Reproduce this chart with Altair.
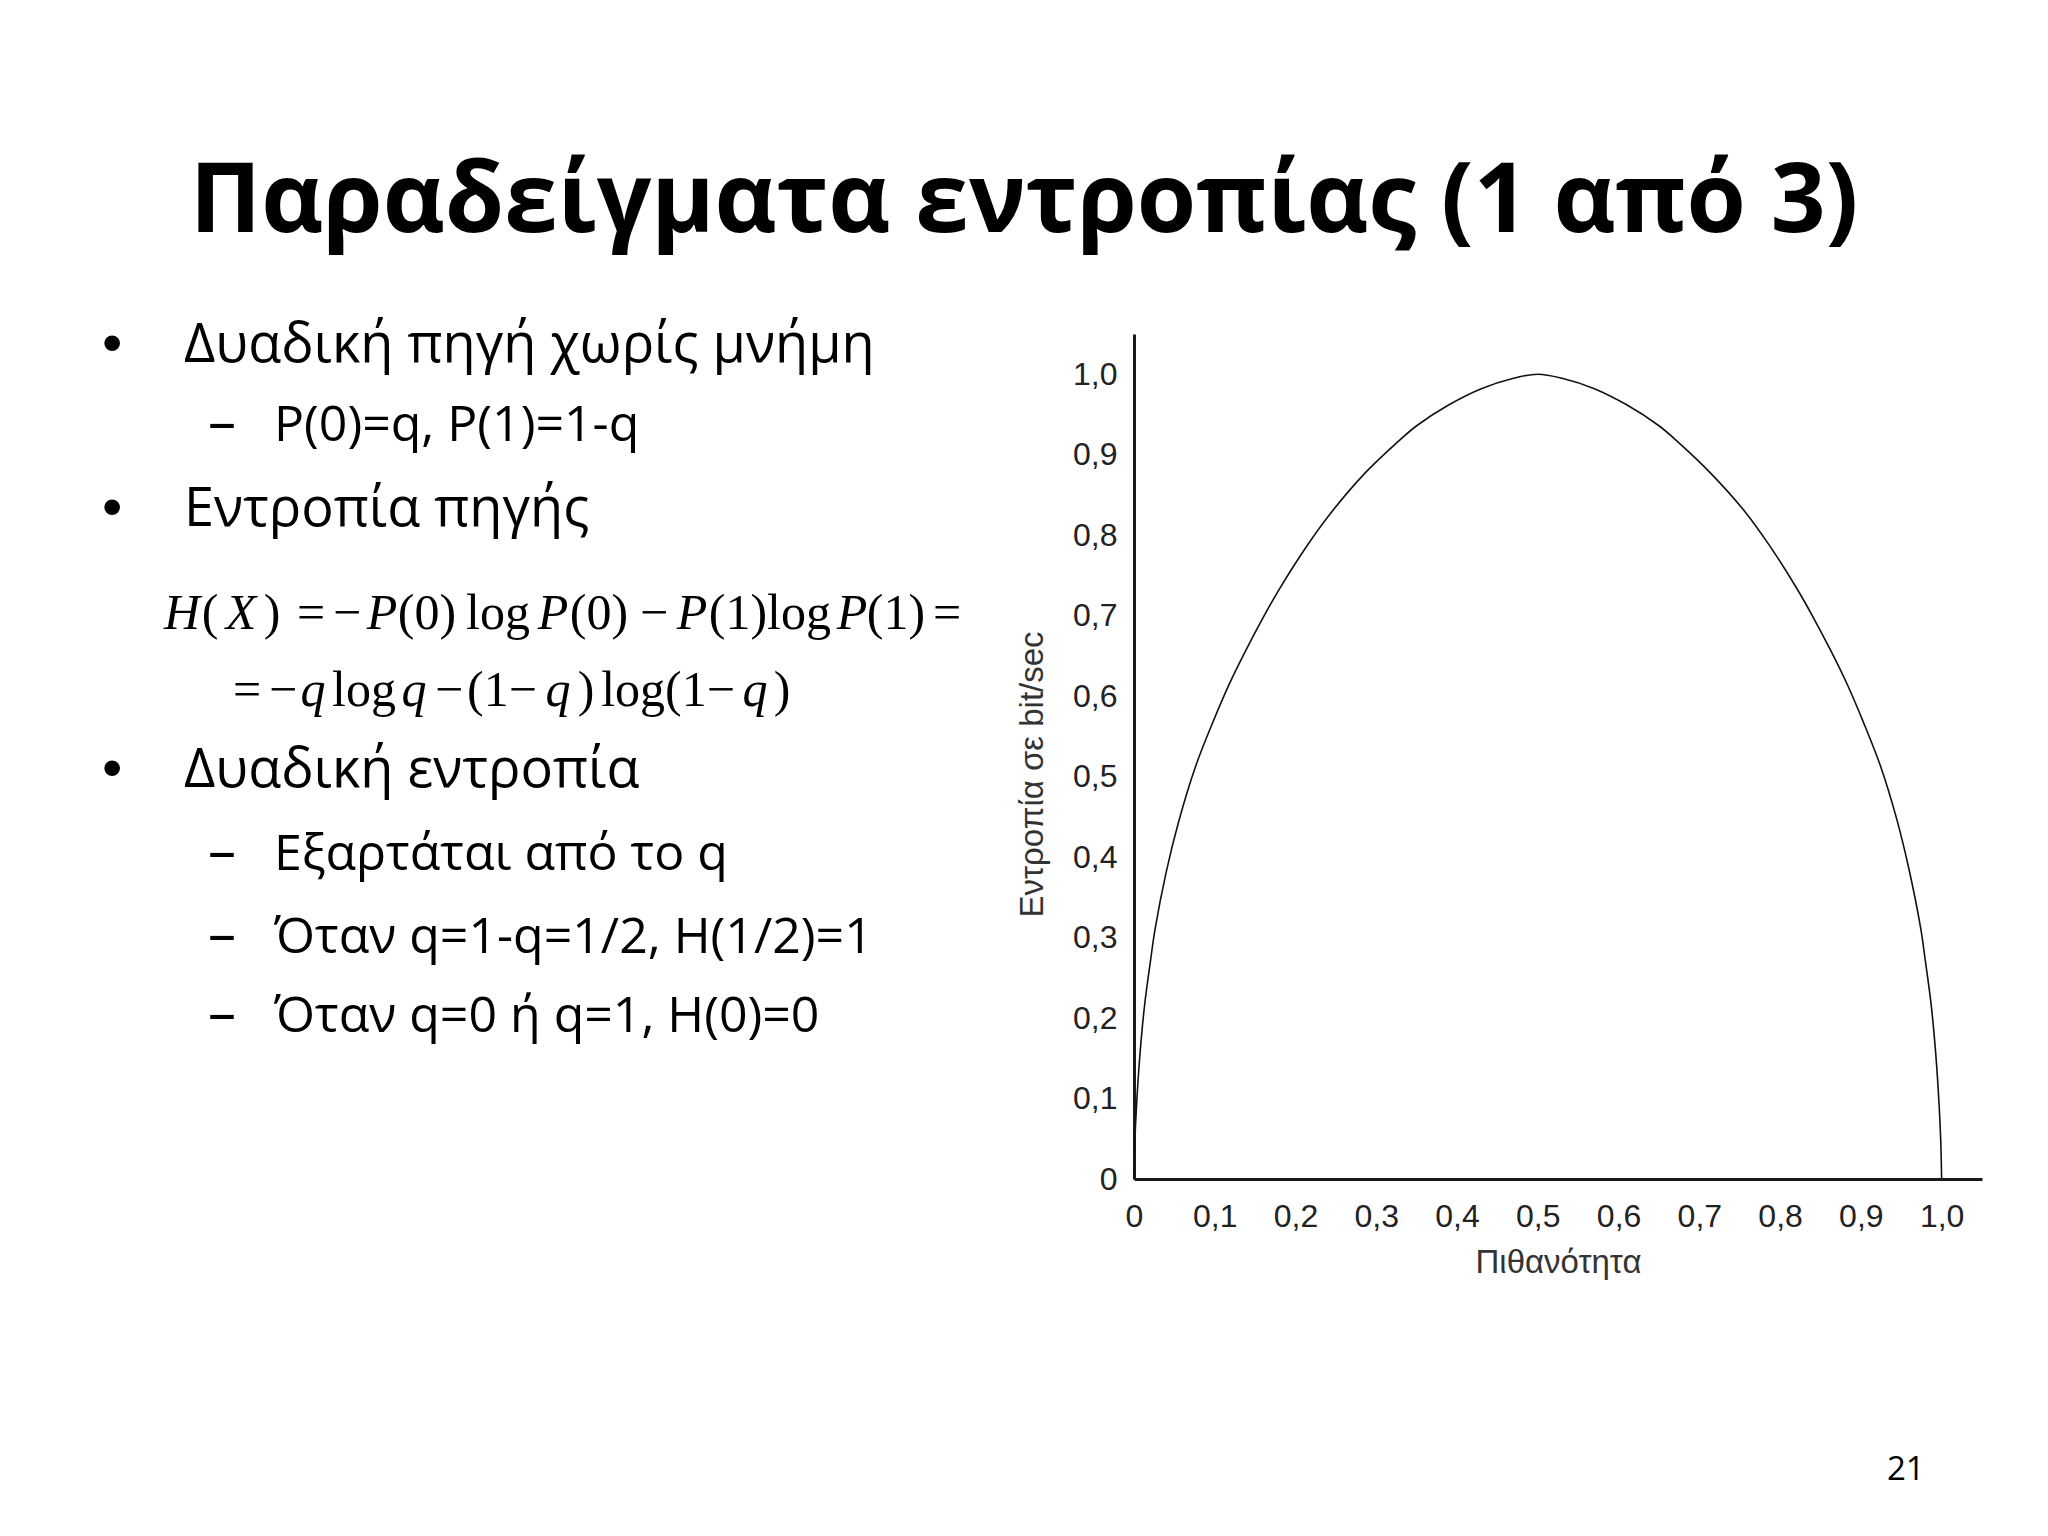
import altair as alt
import pandas as pd

# ---------------- data ----------------
Q = [0, 0.001, 0.003, 0.007, 0.013, 0.02, 0.026, 0.04, 0.055, 0.076, 0.097, 0.1175,
     0.138, 0.159, 0.18, 0.213, 0.2425, 0.284, 0.33, 0.35, 0.39, 0.43, 0.47, 0.5,
     0.53, 0.57, 0.61, 0.65, 0.67, 0.716, 0.7575, 0.787, 0.82, 0.841, 0.862, 0.8825,
     0.903, 0.924, 0.945, 0.96, 0.974, 0.98, 0.987, 0.993, 0.997, 0.999, 1.0]
H = [0, 0.045, 0.089, 0.15, 0.215, 0.268, 0.31, 0.382, 0.443, 0.512, 0.566, 0.614,
     0.656, 0.696, 0.733, 0.785, 0.826, 0.875, 0.919, 0.936, 0.962, 0.982, 0.995, 1.0,
     0.995, 0.982, 0.962, 0.936, 0.919, 0.875, 0.828, 0.787, 0.735, 0.698, 0.658, 0.616,
     0.568, 0.514, 0.445, 0.383, 0.312, 0.27, 0.217, 0.152, 0.09, 0.045, 0]

X_TICKS = [0, 0.1, 0.2, 0.3, 0.4, 0.5, 0.6, 0.7, 0.8, 0.9, 1.0]
Y_TICKS = [0, 0.1, 0.2, 0.3, 0.4, 0.5, 0.6, 0.7, 0.8, 0.9, 1.0]
X_TITLE = "Πιθανότητα"
Y_TITLE = "Εντροπία σε bit/sec"

SLIDE_TITLE = "Παραδείγματα εντροπίας (1 από 3)"
LEVEL1 = ["Δυαδική πηγή χωρίς μνήμη", "Εντροπία πηγής", "Δυαδική εντροπία"]
LEVEL2 = ["P(0)=q, P(1)=1-q", "Εξαρτάται από το q",
          "Όταν q=1-q=1/2, H(1/2)=1", "Όταν q=0 ή q=1, H(0)=0"]
# H(X) = −P(0) log P(0) − P(1) log P(1) =
FORMULA_1 = ["H", "(", "X", ")", "=", "−", "P", "(0)", "log", "P", "(0)",
             "−", "P", "(1)", "log", "P", "(1)", "="]
# = −q log q − (1 − q) log(1 − q)
FORMULA_2 = ["=", "−", "q", "log", "q", "−", "(1−", "q", ")", "log(1−", "q", ")"]
PAGE_NUMBER = "21"

# ---------------- layout (pixels relative to the plot origin) ----------------
W, HGT = 848, 845
PAD = {"left": 1126, "top": 326, "right": 58, "bottom": 349}
SANS = "Open Sans"
SERIF = "Liberation Serif"
AXIS_FONT = "Liberation Sans"

# centres of the formula pieces
F1_X = [-952, -924, -893, -862, -823, -787, -752, -707, -636, -581, -535,
        -480, -442, -396, -335, -282, -238, -187]
F1_IT = [t in ("H", "X", "P") for t in FORMULA_1]
F2_X = [-887, -851, -821, -770, -720, -685, -632, -576, -548, -466, -379, -352]
F2_IT = [t == "q" for t in FORMULA_2]

label_expr = "datum.value == 0 ? '0' : replace(format(datum.value, '.1f'), '.', ',')"

df = pd.DataFrame({"q": Q, "h": H})

curve = alt.Chart(df).mark_line(color="#111111", strokeWidth=1.6, interpolate="catmull-rom").encode(
    x=alt.X("q:Q", scale=alt.Scale(domain=[0, 1.05], nice=False, zero=False),
            axis=alt.Axis(values=X_TICKS, labelExpr=label_expr, ticks=False, grid=False,
                          domainColor="#1a1a1a", domainWidth=3, labelFlush=False,
                          labelFont=AXIS_FONT, labelFontSize=32, labelColor="#222222",
                          labelPadding=22, labelOverlap=False,
                          title=X_TITLE, titleFont=AXIS_FONT, titleFontSize=33,
                          titleFontWeight="normal", titleColor="#333333",
                          titleBaseline="middle", titleY=83)),
    y=alt.Y("h:Q", scale=alt.Scale(domain=[0, 1.05], nice=False, zero=False),
            axis=alt.Axis(values=Y_TICKS, labelExpr=label_expr, ticks=False, grid=False,
                          domainColor="#1a1a1a", domainWidth=3, labelFlush=False,
                          labelFont=AXIS_FONT, labelFontSize=32, labelColor="#222222",
                          labelPadding=17, labelOverlap=False,
                          title=Y_TITLE, titleFont=AXIS_FONT, titleFontSize=33,
                          titleFontWeight="normal", titleColor="#333333",
                          titleBaseline="middle", titleX=-102, titleY=440)),
)


def text_layer(txt, x, y, size, font=SANS, weight="normal", style="normal", align="left"):
    return alt.Chart(pd.DataFrame({"t": [txt]})).mark_text(
        font=font, fontSize=size, fontWeight=weight, fontStyle=style, align=align,
        baseline="alphabetic", color="black"
    ).encode(text="t:N", x=alt.value(x), y=alt.value(y))


layers = [curve]
layers.append(text_layer(SLIDE_TITLE, -110, -102, 96, weight="bold", align="center"))

# level-1 bullets
l1_y = [28, 192, 453]
for txt, y in zip(LEVEL1, l1_y):
    layers.append(text_layer("•", -1032, y, 58, font=AXIS_FONT))
    layers.append(text_layer(txt, -950, y, 54))

# level-2 dashes
l2_y = [107, 536, 619, 698]
for txt, y in zip(LEVEL2, l2_y):
    layers.append(text_layer("–", -926, y, 56))
    layers.append(text_layer(txt, -860, y, 50))

# formula
for txt, x, it in zip(FORMULA_1, F1_X, F1_IT):
    layers.append(text_layer(txt, x, 295, 50, font=SERIF,
                             style="italic" if it else "normal", align="center"))
for txt, x, it in zip(FORMULA_2, F2_X, F2_IT):
    layers.append(text_layer(txt, x, 372, 50, font=SERIF,
                             style="italic" if it else "normal", align="center"))

layers.append(text_layer(PAGE_NUMBER, 753, 1146, 33))

chart = alt.layer(*layers).properties(
    width=W, height=HGT, padding=PAD, autosize="none", background="white"
).configure_view(stroke=None)

chart.save("out.html", embed_options={"renderer": "svg", "actions": False})
